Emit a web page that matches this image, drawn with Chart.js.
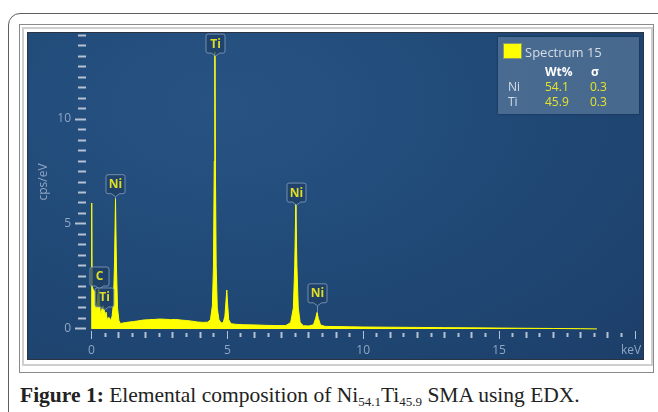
<!DOCTYPE html>
<html>
<head>
<meta charset="utf-8">
<script src="https://cdn.jsdelivr.net/npm/chart.js@4.4.1/dist/chart.umd.min.js"></script>
<style>
    html, body { margin: 0; padding: 0; background: #fff; }
    body { width: 658px; height: 412px; position: relative; overflow: hidden; font-family: "Open Sans", Arial, sans-serif; }
    #outerBox { position: absolute; left: 8px; top: 13px; width: 720px; height: 480px; border: 1px solid #5e5e5e; border-radius: 12px; }
    #frame1 { position: absolute; left: 19px; top: 24px; width: 633px; height: 347px; border: 1px solid #8a8a8a; background: #fff; }
    #frame2 { position: absolute; left: 22px; top: 27px; width: 627px; height: 335px; border: 2px solid #cfcfcf; }
    #plot { position: absolute; left: 28px; top: 33px; width: 615px; height: 326px; overflow: hidden;
            background: radial-gradient(ellipse at 32% 22%, #275383 0%, #214a78 45%, #1c3f69 100%);
            box-shadow: 0 0 0 1px #2b3440; }
    #plot canvas { position: absolute; left: 0; top: 0; }
    #legendBox { position: absolute; left: 498px; top: 37px; width: 141px; height: 77px;
                 background: rgba(112, 138, 168, 0.52); box-shadow: 0 0 2px rgba(10, 25, 45, 0.6); }
    #legendBox span { position: absolute; font-size: 12px; line-height: 14px; white-space: nowrap; }
    #swatch { position: absolute; left: 5px; top: 6px; width: 17px; height: 14px; background: #ffff00; border: 1px solid #8a9a6a; }
    .lbl { color: #d5dde7; }
    .hdr { color: #ffffff; font-weight: 700; }
    .val { color: #e4e42c; }
    #caption { position: absolute; left: 20px; top: 383px; font-family: "Liberation Serif", "Times New Roman", serif;
               font-size: 21.5px; color: #222; white-space: nowrap; }
    #caption sub { font-size: 13px; vertical-align: -4px; }
</style>
</head>
<body>
<div id="outerBox"></div>
<div id="frame1"></div>
<div id="frame2"></div>
<div id="plot"><canvas id="edxChart" width="630" height="326"></canvas></div>
<div id="legendBox">
    <div id="swatch"></div>
    <span class="lbl" style="left:27px; top:8px; font-size:13px;">Spectrum 15</span>
    <span class="hdr" style="left:47px; top:28px;">Wt%</span>
    <span class="hdr" style="left:93px; top:28px;">σ</span>
    <span class="lbl" style="left:10px; top:43px;">Ni</span>
    <span class="val" style="left:47px; top:43px;">54.1</span>
    <span class="val" style="left:92px; top:43px;">0.3</span>
    <span class="lbl" style="left:10px; top:58px;">Ti</span>
    <span class="val" style="left:47px; top:58px;">45.9</span>
    <span class="val" style="left:92px; top:58px;">0.3</span>
</div>
<div id="caption"><b>Figure 1:</b> Elemental composition of Ni<sub>54.1</sub>Ti<sub>45.9</sub> SMA using EDX.</div>

<script>
// spectrum (keV, cps/eV)
const energy = [
    0.00, 0.01, 0.025, 0.06, 0.10, 0.13, 0.17, 0.21, 0.26, 0.30,
    0.34, 0.38, 0.42, 0.46, 0.50, 0.54, 0.58, 0.64, 0.70, 0.76,
    0.81, 0.85, 0.885, 0.92, 0.96, 1.01, 1.07, 1.15, 1.25, 1.40,
    1.55, 1.70, 1.90, 2.10, 2.30, 2.50, 2.70, 2.90, 3.10, 3.30,
    3.50, 3.70, 3.90, 4.10, 4.28, 4.38, 4.45, 4.49, 4.52, 4.54,
    4.56, 4.59, 4.63, 4.69, 4.77, 4.85, 4.91, 4.95, 4.98, 5.01,
    5.05, 5.13, 5.30, 5.60, 6.00, 6.40, 6.80, 7.15, 7.33, 7.43,
    7.48, 7.52, 7.56, 7.61, 7.68, 7.80, 8.00, 8.17, 8.25, 8.30,
    8.35, 8.43, 8.60, 9.00, 9.50, 10.0, 11.0, 12.0, 13.0, 14.0,
    15.0, 16.0, 17.0, 18.0, 18.6
];
const counts = [
    0.0, 6.0, 2.0, 1.9, 1.8, 1.2, 0.9, 1.3, 1.9, 1.2,
    0.6, 0.9, 1.1, 1.0, 0.6, 0.8, 0.45, 0.55, 0.4, 0.6,
    1.2, 3.2, 6.2, 3.0, 1.0, 0.4, 0.25, 0.28, 0.3, 0.33,
    0.35, 0.38, 0.42, 0.44, 0.45, 0.47, 0.46, 0.44, 0.45, 0.42,
    0.40, 0.37, 0.33, 0.31, 0.32, 0.45, 1.1, 3.0, 8.0, 13.2,
    8.0, 3.0, 1.0, 0.45, 0.28, 0.3, 0.6, 1.3, 1.85, 1.2,
    0.45, 0.25, 0.22, 0.2, 0.19, 0.17, 0.16, 0.16, 0.3, 1.0,
    3.0, 5.95, 3.0, 1.0, 0.3, 0.15, 0.14, 0.2, 0.5, 0.78,
    0.5, 0.18, 0.12, 0.11, 0.1, 0.09, 0.08, 0.07, 0.06, 0.05,
    0.04, 0.03, 0.02, 0.01, 0.0
];

// peak labels: element, energy (keV) and where the pointer tip sits (cps/eV)
const peakNames = ["C", "Ti", "Ni", "Ti", "Ni", "Ni"];
const peakEnergy = [0.29, 0.47, 0.885, 4.54, 7.52, 8.30];
const peakTip = [1.9, 0.9, 6.3, 13.0, 5.9, 1.1];

const yLabelTicks = [0, 5, 10];
const xLabelTicks = [0, 5, 10, 15];
const xUnitTick = 20;

const tickTextColor = "#8fa6c4";
const tickMarkColor = "#b4c2d3";

/**
 * Draws the element labels (box + pointer) and their stems.
 */
const peakLabelPlugin = {
    id: "peakLabels",
    beforeDatasetsDraw(chart) {
        const { ctx, scales: { x, y } } = chart;
        ctx.save();
        ctx.strokeStyle = "rgba(150, 172, 198, 0.7)";
        ctx.lineWidth = 1;
        peakEnergy.forEach((e, i) => {
            const px = Math.round(x.getPixelForValue(e)) + 0.5;
            ctx.beginPath();
            ctx.moveTo(px, y.getPixelForValue(peakTip[i]));
            ctx.lineTo(px, y.getPixelForValue(0));
            ctx.stroke();
        });
        ctx.restore();
    },
    afterDatasetsDraw(chart) {
        const { ctx, scales: { x, y } } = chart;
        ctx.save();
        ctx.font = "bold 12px 'Open Sans', Arial, sans-serif";
        ctx.textAlign = "center";
        ctx.textBaseline = "middle";
        peakEnergy.forEach((e, i) => {
            const cx = Math.round(x.getPixelForValue(e)) + 0.5;
            const tip = y.getPixelForValue(peakTip[i]);
            const w = 19, h = 19;
            const bottom = tip - 3;
            const top = bottom - h;
            const left = cx - w / 2, right = cx + w / 2;
            ctx.beginPath();
            ctx.moveTo(left + 2, top);
            ctx.lineTo(right - 2, top);
            ctx.quadraticCurveTo(right, top, right, top + 2);
            ctx.lineTo(right, bottom - 2);
            ctx.quadraticCurveTo(right, bottom, right - 2, bottom);
            ctx.lineTo(cx + 4, bottom);
            ctx.lineTo(cx, tip);
            ctx.lineTo(cx - 4, bottom);
            ctx.lineTo(left + 2, bottom);
            ctx.quadraticCurveTo(left, bottom, left, bottom - 2);
            ctx.lineTo(left, top + 2);
            ctx.quadraticCurveTo(left, top, left + 2, top);
            ctx.closePath();
            ctx.fillStyle = "rgba(30, 62, 100, 0.72)";
            ctx.fill();
            ctx.strokeStyle = "rgba(140, 165, 195, 0.75)";
            ctx.lineWidth = 1;
            ctx.stroke();
            ctx.fillStyle = "#dede26";
            ctx.fillText(peakNames[i], cx, top + h / 2 + 0.5);
        });
        ctx.restore();
    },
};

function initChart() {
    const canvas = document.getElementById("edxChart");
    const points = energy.map((e, i) => ({ x: e, y: counts[i] }));

    new Chart(canvas, {
        type: "line",
        data: {
            datasets: [{
                label: "Spectrum 15",
                data: points,
                borderColor: "#ffff00",
                backgroundColor: "#ffff00",
                borderWidth: 1,
                fill: "origin",
                tension: 0,
                pointRadius: 0,
            }],
        },
        options: {
            responsive: false,
            animation: false,
            events: [],
            layout: { padding: { top: 0, right: 23, bottom: 0, left: 0 } },
            plugins: {
                legend: { display: false },
                tooltip: { enabled: false },
            },
            scales: {
                x: {
                    type: "linear",
                    min: -0.2,
                    max: 20,
                    border: { display: false },
                    grid: {
                        drawOnChartArea: false,
                        tickLength: 8,
                        tickColor: tickMarkColor,
                        tickWidth: (c) => (c.tick && c.tick.value % 5 === 0 ? 1 : 2),
                        tickBorderDash: (c) => {
                            if (!c.tick) return [];
                            if (c.tick.value % 5 === 0) return [];
                            if (c.tick.value % 1 === 0) return [0, 1, 6, 100];
                            return [0, 2, 4, 100];
                        },
                    },
                    ticks: {
                        stepSize: 0.5,
                        includeBounds: false,
                        autoSkip: false,
                        maxRotation: 0,
                        padding: 4,
                        color: tickTextColor,
                        font: { family: "'Open Sans', Arial, sans-serif", size: 12 },
                        callback: (value) => {
                            // pad the unit label so it stays inside the panel, as in the original
                            if (value === xUnitTick) return "keV\u2002\u2009";
                            return xLabelTicks.includes(value) ? String(value) : "";
                        },
                    },
                    afterFit: (scale) => {
                        scale.height = 28;
                        scale.paddingLeft = 0;
                        scale.paddingRight = 0;
                    },
                },
                y: {
                    min: -0.1,
                    max: 14.1,
                    border: { display: false },
                    grid: {
                        drawOnChartArea: false,
                        tickLength: 11,
                        tickColor: tickMarkColor,
                        tickWidth: 2,
                        tickBorderDash: (c) => (c.tick && c.tick.value % 5 === 0 ? [] : [0, 3, 100]),
                    },
                    ticks: {
                        stepSize: 0.5,
                        includeBounds: false,
                        autoSkip: false,
                        padding: 4,
                        color: tickTextColor,
                        font: { family: "'Open Sans', Arial, sans-serif", size: 12 },
                        callback: (value) => (yLabelTicks.includes(value) ? String(value) : ""),
                    },
                    title: {
                        display: true,
                        text: "cps/eV",
                        color: tickTextColor,
                        font: { family: "'Open Sans', Arial, sans-serif", size: 12 },
                        padding: { top: 8, bottom: 0 },
                    },
                    afterFit: (scale) => {
                        scale.width = 58;
                        scale.paddingTop = 0;
                        scale.paddingBottom = 0;
                    },
                },
            },
        },
        plugins: [peakLabelPlugin],
    });
}

initChart();
</script>
</body>
</html>
